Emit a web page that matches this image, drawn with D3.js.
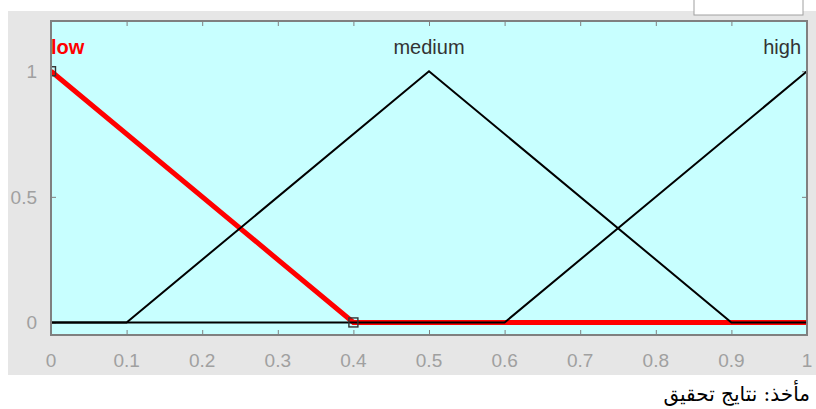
<!DOCTYPE html>
<html>
<head>
<meta charset="utf-8">
<script src="https://cdn.jsdelivr.net/npm/d3@7"></script>
<style>
  body { margin: 0; background: #fff; }
</style>
</head>
<body>
<div id="chart"></div>
<script>
// membership functions, x over [0,1]
var lowX = [0, 0.4, 1],      lowY = [1, 0, 0];
var mediumX = [0, 0.1, 0.5, 0.9, 1], mediumY = [0, 0, 1, 0, 0];
var highX = [0, 0.6, 1],     highY = [0, 0, 1];
var mfNames = ["low", "medium", "high"];
var xTicks = [0, 0.1, 0.2, 0.3, 0.4, 0.5, 0.6, 0.7, 0.8, 0.9, 1];
var yTicks = [0, 0.5, 1];
var caption = "مأخذ: نتایج تحقیق";

function drawChart() {
    var width = 816, height = 409;
    var svg = d3.select("#chart").append("svg")
        .attr("width", width).attr("height", height);

    var pLeft = 51, pRight = 807, pTop = 21, pBottom = 335;

    var x = d3.scaleLinear().domain([0, 1]).range([pLeft, pRight]);
    var y = d3.scaleLinear().domain([-0.05, 1.2]).range([pBottom, pTop]);

    // figure grey panel
    svg.append("rect").attr("x", 8).attr("y", 11).attr("width", width - 8).attr("height", 364)
        .attr("fill", "#e6e6e6");
    // clipped ui box at the top
    svg.append("rect").attr("x", 694).attr("y", -10).attr("width", 109).attr("height", 25)
        .attr("fill", "#fff").attr("stroke", "#a0a0a0").attr("stroke-width", 1);

    // plot area
    svg.append("rect").attr("x", pLeft).attr("y", pTop).attr("width", pRight - pLeft).attr("height", pBottom - pTop)
        .attr("fill", "#c8ffff");

    svg.append("clipPath").attr("id", "clip")
        .append("rect").attr("x", pLeft).attr("y", pTop).attr("width", pRight - pLeft).attr("height", pBottom - pTop);

    var tickFont = "Helvetica, 'Liberation Sans', Arial, sans-serif";

    // axes with inward ticks
    var xb = svg.append("g").attr("transform", "translate(0," + pBottom + ")")
        .call(d3.axisTop(x).tickValues(xTicks).tickSize(5).tickFormat(""));
    var xt = svg.append("g").attr("transform", "translate(0," + pTop + ")")
        .call(d3.axisBottom(x).tickValues(xTicks).tickSize(5).tickFormat(""));
    var yl = svg.append("g").attr("transform", "translate(" + pLeft + ",0)")
        .call(d3.axisRight(y).tickValues(yTicks).tickSize(5).tickFormat(""));
    var yr = svg.append("g").attr("transform", "translate(" + pRight + ",0)")
        .call(d3.axisLeft(y).tickValues(yTicks).tickSize(5).tickFormat(""));
    [xb, xt, yl, yr].forEach(function (g) {
        g.select(".domain").remove();
        g.selectAll("line").attr("stroke", "#808080");
    });

    // tick labels
    svg.append("g").selectAll("text").data(xTicks).enter().append("text")
        .attr("x", function (d) { return x(d); })
        .attr("y", 367)
        .attr("text-anchor", "middle")
        .style("font-family", tickFont).style("font-size", "19px").attr("fill", "#a0a0a0")
        .text(function (d) { return d; });
    svg.append("g").selectAll("text").data(yTicks).enter().append("text")
        .attr("x", 37)
        .attr("y", function (d) { return y(d) + 7; })
        .attr("text-anchor", "end")
        .style("font-family", tickFont).style("font-size", "19px").attr("fill", "#a0a0a0")
        .text(function (d) { return d; });

    var line = d3.line()
        .x(function (d) { return x(d[0]); })
        .y(function (d) { return y(d[1]); });

    var curves = svg.append("g").attr("clip-path", "url(#clip)");

    // selected mf in red, under the black ones
    curves.append("path").datum(d3.zip(lowX, lowY))
        .attr("d", line).attr("fill", "none").attr("stroke", "#ff0000").attr("stroke-width", 5);
    curves.append("path").datum(d3.zip(mediumX, mediumY))
        .attr("d", line).attr("fill", "none").attr("stroke", "#000").attr("stroke-width", 2);
    curves.append("path").datum(d3.zip(highX, highY))
        .attr("d", line).attr("fill", "none").attr("stroke", "#000").attr("stroke-width", 2);

    // square markers on the selected mf
    curves.selectAll("rect.mk").data([[lowX[0], lowY[0]], [lowX[1], lowY[1]]]).enter().append("rect")
        .attr("class", "mk")
        .attr("x", function (d) { return x(d[0]) - 4.5; })
        .attr("y", function (d) { return y(d[1]) - 4.5; })
        .attr("width", 9).attr("height", 9)
        .attr("fill", "none").attr("stroke", "#333").attr("stroke-width", 1.4);

    // axes box
    svg.append("rect").attr("x", pLeft).attr("y", pTop).attr("width", pRight - pLeft).attr("height", pBottom - pTop)
        .attr("fill", "none").attr("stroke", "#808080").attr("stroke-width", 2);

    // mf labels
    var labelPos = [[0, "start", "#ff0000", "bold"], [0.5, "middle", "#333", "normal"], [1, "end", "#333", "normal"]];
    svg.append("g").selectAll("text").data(mfNames).enter().append("text")
        .attr("x", function (d, i) { return x(labelPos[i][0]) + (i == 2 ? -6 : 0); })
        .attr("y", 54)
        .attr("text-anchor", function (d, i) { return labelPos[i][1]; })
        .attr("fill", function (d, i) { return labelPos[i][2]; })
        .style("font-weight", function (d, i) { return labelPos[i][3]; })
        .style("font-family", tickFont).style("font-size", "20px")
        .text(function (d) { return d; });

    // source caption
    svg.append("text").attr("x", 810).attr("y", 401)
        .attr("text-anchor", "start").attr("direction", "rtl")
        .style("font-family", "'DejaVu Serif', 'DejaVu Sans', serif").style("font-size", "20px")
        .attr("fill", "#000")
        .text(caption);
}

drawChart();
</script>
</body>
</html>
